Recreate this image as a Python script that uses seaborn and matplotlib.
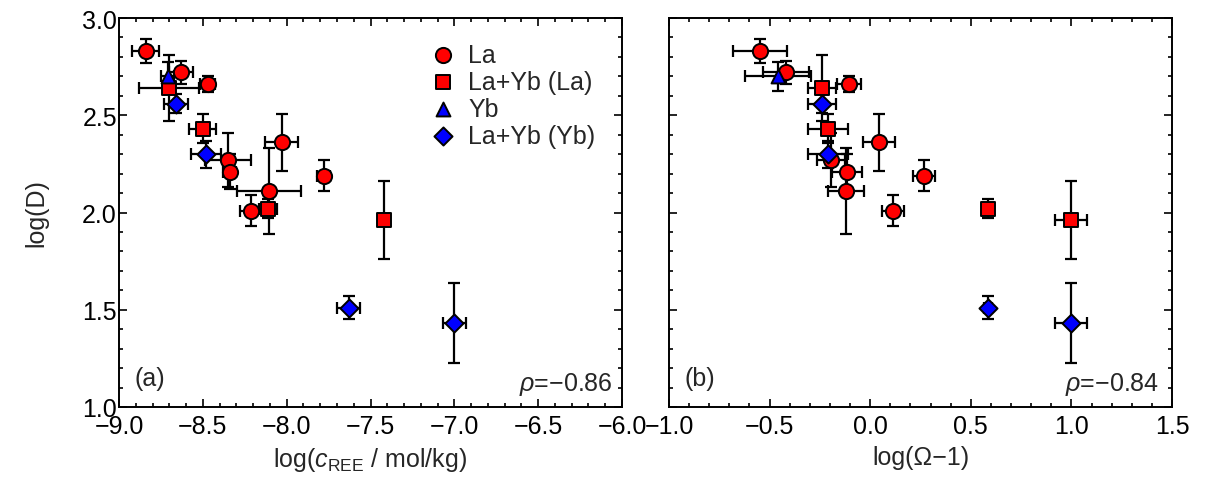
import numpy as np
import pandas as pd
import matplotlib
matplotlib.use("Agg")
import matplotlib.pyplot as plt
from matplotlib.ticker import MultipleLocator
import seaborn as sns

# ---- data ----
series = ["La"] * 9 + ["La+Yb (La)"] * 4 + ["Yb"] + ["La+Yb (Yb)"] * 4
log_c = [-8.84, -8.63, -8.47, -8.35, -8.34, -8.03, -8.105, -8.21, -7.78,
         -8.70, -8.50, -8.11, -7.42,
         -8.71,
         -8.66, -8.48, -7.63, -7.00]
log_c_err = [0.08, 0.07, 0.045, 0.14, 0.04, 0.10, 0.19, 0.07, 0.04,
             0.18, 0.08, 0.055, 0.02,
             0.04,
             0.07, 0.09, 0.07, 0.07]
log_omega = [-0.547, -0.418, -0.104, -0.194, -0.114, 0.045, -0.119, 0.114, 0.269,
             -0.239, -0.209, 0.587, 1.00,
             -0.457,
             -0.239, -0.209, 0.587, 1.00]
log_omega_err = [0.135, 0.115, 0.06, 0.07, 0.075, 0.08, 0.09, 0.055, 0.055,
                 0.07, 0.10, 0.02, 0.08,
                 0.165,
                 0.07, 0.10, 0.02, 0.08]
log_D = [2.83, 2.72, 2.66, 2.27, 2.21, 2.36, 2.11, 2.01, 2.19,
         2.64, 2.43, 2.02, 1.96,
         2.70,
         2.56, 2.30, 1.51, 1.43]
log_D_err = [0.06, 0.06, 0.04, 0.14, 0.09, 0.145, 0.22, 0.08, 0.08,
             0.17, 0.075, 0.05, 0.20,
             0.075,
             0.05, 0.07, 0.06, 0.205]
labels_order = ["La", "La+Yb (La)", "Yb", "La+Yb (Yb)"]
rho_a, rho_b = -0.86, -0.84

df = pd.DataFrame({"series": series, "log_c": log_c, "log_c_err": log_c_err,
                   "log_omega": log_omega, "log_omega_err": log_omega_err,
                   "log_D": log_D, "log_D_err": log_D_err})

sns.set_style("ticks")
plt.rcParams["font.family"] = ["Liberation Sans", "DejaVu Sans"]
plt.rcParams["mathtext.fontset"] = "custom"
plt.rcParams["mathtext.rm"] = "Liberation Sans"
plt.rcParams["mathtext.it"] = "Liberation Sans:italic"
plt.rcParams["axes.unicode_minus"] = True

palette = {"La": "#FF0000", "La+Yb (La)": "#FF0000", "Yb": "#0000FF", "La+Yb (Yb)": "#0000FF"}
markers = {"La": "o", "La+Yb (La)": "s", "Yb": "^", "La+Yb (Yb)": "D"}
sizes_pt = {"La": 120, "La+Yb (La)": 95, "Yb": 100, "La+Yb (Yb)": 85}

fs = 18
fig = plt.figure(figsize=(12.10, 4.81), dpi=100)
axA = fig.add_axes([119 / 1210, 73 / 481, 503 / 1210, 389 / 481])
axB = fig.add_axes([669 / 1210, 73 / 481, 503 / 1210, 389 / 481])

def draw(ax, xcol, xerrcol, legend):
    ax.errorbar(df[xcol], df["log_D"], xerr=df[xerrcol], yerr=df["log_D_err"],
                fmt="none", ecolor="black", elinewidth=1.6, capsize=4.5,
                capthick=1.6, zorder=2)
    for lab in labels_order:
        sub = df[df["series"] == lab]
        sns.scatterplot(data=sub, x=xcol, y="log_D", ax=ax, color=palette[lab],
                        marker=markers[lab], s=sizes_pt[lab], edgecolor="black",
                        linewidth=1.4, zorder=3, label=lab if legend else None,
                        legend=False)
    ax.set_ylim(1.0, 3.0)
    ax.yaxis.set_major_locator(MultipleLocator(0.5))
    ax.yaxis.set_minor_locator(MultipleLocator(0.1))
    ax.xaxis.set_major_locator(MultipleLocator(0.5))
    ax.xaxis.set_minor_locator(MultipleLocator(0.1))
    ax.tick_params(which="both", direction="in", top=True, right=True,
                   labelsize=fs, width=1.2, colors="black")
    ax.tick_params(which="major", length=6)
    ax.tick_params(which="minor", length=3)
    ax.tick_params(axis="x", which="major", pad=5)
    ax.tick_params(axis="y", which="major", pad=1.5)
    for sp in ax.spines.values():
        sp.set_linewidth(1.4)
        sp.set_color("black")

draw(axA, "log_c", "log_c_err", True)
axA.set_xlim(-9.0, -6.0)
axA.set_xlabel(r"log($c_{\mathrm{REE}}$ / mol/kg)", fontsize=fs, labelpad=5)
axA.set_ylabel("log(D)", fontsize=fs, labelpad=24)
axA.set_yticks([1.0, 1.5, 2.0, 2.5, 3.0])
axA.set_yticklabels(["1.0", "1.5", "2.0", "2.5", "3.0"])
axA.text(0.03, 0.075, "(a)", transform=axA.transAxes, fontsize=fs, ha="left", va="center")
axA.text(0.982, 0.06, rf"$\rho$={rho_a:.2f}".replace("-", "\u2212"), transform=axA.transAxes,
         fontsize=fs, ha="right", va="center")
leg = axA.legend(loc="upper left", bbox_to_anchor=(0.59, 0.975), frameon=False,
                 fontsize=fs, handlelength=1.0, handletextpad=0.5, labelspacing=0.12,
                 borderaxespad=0.2)

draw(axB, "log_omega", "log_omega_err", False)
axB.set_xlim(-1.0, 1.5)
axB.set_xlabel("log(\u03a9\u22121)", fontsize=fs, labelpad=5)
axB.set_ylabel("")
axB.tick_params(labelleft=False)
axB.text(0.03, 0.075, "(b)", transform=axB.transAxes, fontsize=fs, ha="left", va="center")
axB.text(0.975, 0.06, rf"$\rho$={rho_b:.2f}".replace("-", "\u2212"), transform=axB.transAxes,
         fontsize=fs, ha="right", va="center")

fig.savefig("out.png", dpi=100)
